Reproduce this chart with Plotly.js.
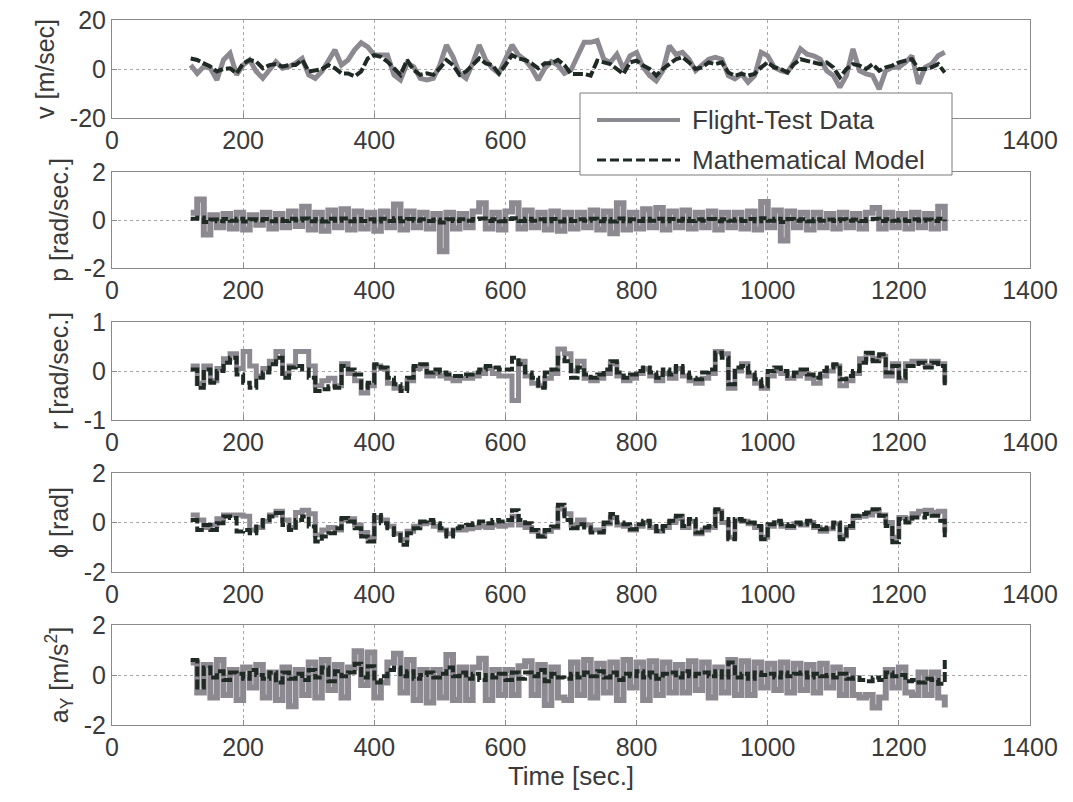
<!DOCTYPE html>
<html>
<head>
<meta charset="utf-8">
<script src="https://cdn.plot.ly/plotly-3.0.1.min.js"></script>
<style>html,body{margin:0;padding:0;background:#fff;}#chart{width:1073px;height:802px;}</style>
</head>
<body>
<div id="chart"></div>
<script>
// Time samples [sec.]
const TIME = [120,130,140,150,160,170,180,190,200,210,220,230,240,250,260,270,280,290,300,310,
  320,330,340,350,360,370,380,390,400,410,420,430,440,450,460,470,480,490,500,510,
  520,530,540,550,560,570,580,590,600,610,620,630,640,650,660,670,680,690,700,710,
  720,730,740,750,760,770,780,790,800,810,820,830,840,850,860,870,880,890,900,910,
  920,930,940,950,960,970,980,990,1000,1010,1020,1030,1040,1050,1060,1070,1080,1090,1100,1110,
  1120,1130,1140,1150,1160,1170,1180,1190,1200,1210,1220,1230,1240,1250,1260,1270];

// v [m/sec]
const V_FLIGHT = [1.6,-1.8,1.0,0.3,-4.5,3.7,6.4,-2.4,1.6,3.7,
  -1.0,-3.8,-0.4,3.0,0.3,1.0,2.3,4.3,-2.4,-3.8,
  -1.0,3.7,7.8,1.6,3.7,7.8,10.7,9.0,5.7,5.7,
  5.7,-2.4,-4.5,2.3,1.0,-3.8,-4.5,-3.8,1.6,9.8,
  5.0,-1.8,-3.8,2.3,9.8,3.7,0.3,-1.8,3.7,9.8,
  5.7,3.7,0.3,-4.5,0.3,3.0,1.6,-1.8,-0.4,5.4,
  10.9,10.9,11.6,4.0,2.7,6.0,0.0,5.4,6.8,0.7,
  -2.7,-4.8,-0.7,9.5,6.0,6.8,4.0,-0.7,1.4,4.0,
  4.8,4.0,-2.7,-4.0,-2.0,-5.4,-2.7,6.8,5.4,0.7,
  -0.7,-1.4,2.7,8.2,6.0,5.4,4.0,-0.7,-2.7,-7.5,
  -2.7,8.2,-0.7,-2.0,-2.7,-8.2,-0.7,0.7,0.7,2.7,
  5.4,-6.0,0.7,2.0,5.4,6.8];
const V_MODEL = [4.3,3.7,2.3,1.0,-1.0,0.0,0.3,-1.8,2.3,3.7,
  3.0,0.3,1.6,2.0,1.0,1.6,1.6,3.7,-1.0,-0.4,
  -0.1,1.6,0.3,-1.8,-1.8,-3.0,-1.0,4.3,5.7,5.0,
  3.0,0.3,-2.4,3.7,-0.4,-2.4,-1.8,-2.4,0.3,3.7,
  1.6,-2.4,-1.0,1.6,4.3,2.3,1.6,-1.8,1.6,5.7,
  4.3,3.7,2.3,0.3,2.3,2.3,3.7,1.6,-2.0,-2.0,
  -2.0,-2.7,3.4,2.7,2.0,0.0,-2.0,2.7,3.4,1.4,
  0.0,-2.7,0.0,2.0,4.0,4.8,2.7,0.0,0.7,2.7,
  2.0,2.7,-1.4,-2.7,-2.0,-2.7,-2.0,0.7,2.7,0.7,
  0.0,-1.4,2.0,4.0,3.4,2.7,2.0,2.7,0.7,-3.4,
  0.0,2.0,1.4,0.0,2.0,-0.7,0.7,1.4,2.7,3.4,
  4.0,0.0,0.0,0.7,2.0,-1.4];

// p [rad/sec.]
const P_FLIGHT = [0.3,0.85,-0.6,0.2,-0.3,0.25,-0.35,0.3,-0.4,0.2,
  -0.2,0.3,-0.35,0.25,-0.3,0.35,-0.25,0.55,-0.4,0.3,
  -0.45,0.4,-0.3,0.45,-0.4,0.35,-0.35,0.3,-0.45,0.35,
  -0.3,0.65,-0.4,0.35,-0.3,0.3,-0.35,0.25,-1.3,0.3,
  -0.35,0.25,-0.3,0.35,0.7,-0.35,0.3,-0.4,0.35,0.7,
  -0.35,0.4,-0.3,0.3,-0.4,0.35,-0.45,0.3,-0.35,0.3,
  -0.3,0.4,-0.4,0.35,-0.55,0.7,-0.4,0.3,-0.35,0.45,
  -0.3,0.5,-0.4,0.35,-0.3,0.4,-0.35,0.3,-0.3,0.35,
  -0.4,0.3,-0.3,0.3,-0.35,0.35,-0.4,0.75,-0.3,0.4,
  -0.85,0.35,-0.3,0.3,-0.4,0.3,-0.3,0.25,-0.35,0.3,
  -0.3,0.25,-0.35,0.3,0.5,-0.35,0.3,-0.3,0.25,-0.35,
  0.3,-0.3,0.25,-0.35,0.55,-0.45];
const P_MODEL = [0.05,0.1,-0.08,0.02,-0.05,0.04,-0.03,0.05,-0.06,0.03,
  -0.02,0.04,-0.05,0.03,-0.04,0.05,-0.02,0.06,-0.05,0.03,
  -0.06,0.05,-0.03,0.06,-0.05,0.04,-0.04,0.03,-0.06,0.05,
  -0.04,0.07,-0.05,0.04,-0.03,0.03,-0.04,0.02,-0.1,0.03,
  -0.04,0.03,-0.03,0.04,0.06,-0.04,0.03,-0.05,0.04,0.07,
  -0.04,0.05,-0.03,0.03,-0.05,0.04,-0.06,0.03,-0.04,0.03,
  -0.03,0.05,-0.05,0.04,-0.06,0.06,-0.05,0.03,-0.04,0.05,
  -0.03,0.05,-0.05,0.04,-0.03,0.05,-0.04,0.03,-0.03,0.04,
  -0.05,0.03,-0.03,0.03,-0.04,0.04,-0.05,0.07,-0.03,0.05,
  -0.08,0.04,-0.03,0.03,-0.05,0.03,-0.03,0.02,-0.04,0.03,
  -0.03,0.02,-0.04,0.03,0.05,-0.04,0.03,-0.03,0.02,-0.04,
  0.03,-0.03,0.02,-0.04,0.05,-0.05];

// r [rad/sec.]
const R_FLIGHT = [0.1,-0.25,0.1,-0.2,0.05,0.25,0.35,0.05,0.4,0.1,
  -0.1,0.05,0.2,0.4,-0.05,0.1,0.4,0.4,0.1,-0.3,
  -0.2,-0.15,-0.3,0.15,-0.05,-0.2,-0.45,-0.3,0.1,0.05,
  -0.25,-0.35,-0.35,-0.2,0.05,0.1,-0.1,-0.05,-0.1,-0.15,
  -0.2,-0.15,-0.15,-0.1,-0.05,0.05,-0.05,-0.1,-0.1,-0.6,
  0.2,-0.1,-0.25,-0.3,-0.15,-0.05,0.45,0.35,0.0,
  0.2,-0.15,-0.2,-0.15,-0.05,0.15,-0.1,-0.2,-0.15,-0.05,
  0.05,-0.1,-0.2,-0.05,-0.15,0.05,-0.1,-0.2,-0.25,-0.15,
  -0.05,0.4,0.35,-0.35,0.0,0.15,-0.1,-0.25,-0.35,-0.1,
  0.0,-0.05,-0.15,-0.1,-0.05,-0.15,-0.25,-0.1,0.0,0.1,
  -0.3,-0.2,-0.05,0.25,0.35,0.25,0.3,-0.1,0.15,-0.2,
  0.15,0.2,0.2,0.1,0.2,0.15,-0.25];
const R_MODEL = [0.03,-0.34,0.03,-0.24,0.0,0.17,0.27,-0.07,-0.24,-0.34,
  -0.14,-0.03,0.14,0.27,-0.14,0.07,0.1,0.03,-0.14,-0.41,
  -0.37,-0.31,-0.34,0.1,0.03,-0.07,-0.34,-0.24,0.14,0.07,
  -0.14,-0.27,-0.41,-0.14,0.1,0.14,-0.03,0.03,-0.03,-0.07,
  -0.1,-0.1,-0.07,-0.03,0.03,0.1,0.07,0.03,0.03,0.27,
  0.14,-0.03,-0.14,-0.34,-0.03,0.03,0.27,0.2,-0.14,
  0.07,-0.07,-0.14,-0.07,0.03,0.2,-0.03,-0.14,-0.07,0.0,
  0.07,-0.03,-0.14,0.03,-0.07,0.1,-0.03,-0.14,-0.17,-0.03,
  0.03,0.37,0.27,-0.27,0.07,0.1,-0.03,-0.17,-0.31,0.0,
  0.07,0.0,-0.1,-0.03,0.03,-0.07,-0.14,0.0,0.07,0.14,
  -0.17,-0.1,0.0,0.17,0.37,0.2,0.34,-0.03,0.1,-0.14,
  0.1,0.1,0.17,0.07,0.17,0.1,-0.34];

// phi [rad]
const PHI_FLIGHT = [0.3,0.1,-0.2,-0.1,0.15,0.3,0.3,0.3,0.25,-0.3,
  -0.2,0.05,0.3,0.45,0.1,-0.2,0.4,0.5,0.35,-0.5,
  -0.3,-0.2,-0.3,0.1,0.15,-0.1,-0.4,-0.6,0.2,0.1,
  -0.15,-0.45,-0.7,-0.35,-0.15,-0.05,0.0,-0.15,-0.3,-0.45,
  -0.3,-0.3,-0.25,-0.2,-0.15,-0.2,-0.1,-0.15,-0.1,0.25,
  -0.1,-0.2,-0.35,-0.55,-0.35,-0.2,0.55,0.35,-0.1,
  0.1,-0.1,-0.3,-0.3,-0.05,0.2,-0.1,-0.15,-0.3,-0.15,
  0.0,-0.2,-0.35,-0.2,0.0,0.15,-0.2,0.05,-0.45,-0.3,
  -0.2,0.45,0.0,-0.6,0.1,0.05,-0.05,-0.2,-0.6,-0.15,
  0.0,-0.15,-0.2,-0.05,-0.1,0.0,-0.2,-0.35,-0.25,-0.05,
  -0.55,-0.2,0.2,0.25,0.3,0.45,0.3,0.0,-0.6,0.2,
  0.15,0.35,0.45,0.5,0.4,0.45,-0.4];
const PHI_MODEL = [0.1,-0.3,-0.1,-0.3,-0.03,0.24,0.18,-0.36,-0.3,-0.43,
  -0.16,0.1,0.24,0.38,-0.1,-0.3,0.1,0.24,-0.16,-0.77,
  -0.57,-0.43,-0.23,0.18,0.04,-0.23,-0.57,-0.77,0.3,-0.03,
  -0.23,-0.5,-0.9,-0.43,-0.23,0.04,0.1,-0.03,-0.23,-0.57,
  -0.23,-0.16,-0.1,-0.03,0.04,-0.03,0.1,0.04,0.1,0.5,
  0.1,-0.03,-0.3,-0.57,-0.3,-0.16,0.72,0.1,-0.23,
  -0.07,-0.2,-0.4,-0.4,0.0,0.34,0.0,-0.07,-0.27,-0.07,
  0.07,-0.14,-0.34,-0.14,0.07,0.27,-0.14,0.14,-0.4,-0.2,
  -0.14,0.54,0.14,-0.68,0.14,0.07,0.0,-0.14,-0.68,-0.07,
  0.07,-0.07,-0.14,0.0,-0.07,0.07,-0.14,-0.27,-0.2,0.0,
  -0.68,-0.14,0.27,0.34,0.4,0.54,0.27,-0.14,-0.8,0.14,
  0.0,0.2,0.2,0.34,0.27,0.07,-0.6];

// a_Y [m/s^2]
const AY_FLIGHT = [0.5,-0.7,0.4,-0.9,0.6,-0.8,0.2,-1.0,0.3,-0.5,
  0.4,-0.9,0.1,-1.0,0.3,-1.25,0.2,-0.8,0.5,-0.9,
  0.6,-0.6,0.4,-0.9,0.3,0.95,-0.4,0.9,-0.9,-0.3,
  0.5,0.85,-0.7,0.6,-1.0,0.2,-1.1,0.2,-0.9,0.8,
  -1.0,0.3,-1.0,0.3,0.65,-1.0,0.2,-0.8,0.2,-0.8,
  0.35,0.55,-0.8,0.4,-1.2,0.3,-0.9,-1.0,0.5,-0.8,
  0.6,-0.9,0.45,-0.7,0.5,-1.0,0.6,-0.5,0.5,-1.0,
  0.55,-0.8,0.5,-0.7,0.4,-0.7,0.55,-0.6,0.5,-0.9,
  0.3,-0.7,0.6,-0.8,0.55,-0.8,0.5,-0.5,0.45,-0.6,
  0.5,-0.7,0.45,-0.6,0.4,-0.7,0.45,-0.5,0.3,-0.8,
  0.2,-0.8,-0.9,-0.8,-1.3,-0.9,0.2,-0.5,0.3,-0.7,
  -0.8,0.1,-0.8,0.1,-0.9,-1.3];
const AY_MODEL = [0.6,-0.5,0.3,-0.1,0.15,-0.2,0.1,0.05,-0.15,0.2,
  0.0,-0.15,0.1,-0.3,0.1,-0.15,0.05,-0.2,0.2,-0.1,
  0.3,-0.25,0.15,-0.05,0.1,0.45,-0.1,0.35,-0.3,-0.05,
  0.2,0.3,-0.05,0.15,-0.15,0.0,0.1,-0.1,0.05,0.3,
  -0.05,0.1,-0.15,0.05,-0.2,0.0,-0.1,0.05,-0.2,0.1,
  -0.15,0.1,-0.05,0.2,-0.25,0.05,-0.1,-0.15,0.05,-0.1,
  0.1,-0.05,0.15,-0.1,0.1,-0.2,0.05,-0.05,0.15,-0.1,
  0.1,-0.15,0.05,0.1,-0.1,0.15,-0.05,0.05,0.1,-0.05,
  0.15,-0.1,0.5,-0.1,0.05,-0.15,0.1,0.0,0.05,-0.1,
  0.1,-0.05,0.05,0.1,-0.1,0.05,-0.05,0.0,-0.1,0.05,
  -0.15,-0.1,-0.2,-0.25,-0.1,-0.2,0.1,-0.05,0.0,-0.25,
  -0.2,-0.3,-0.15,-0.2,-0.35,0.6];

const X_TICKS = [0,200,400,600,800,1000,1200,1400];
// top panel: the labels 800-1200 lie under the legend box in the reference
const X_TICKTEXT_TOP = ['0','200','400','600','','','','1400'];
const PANELS = [
  {flight: V_FLIGHT, model: V_MODEL, range: [-20,20], ticks: [-20,0,20], label: 'v [m/sec]', shape: 'linear', gw: 5},
  {flight: P_FLIGHT, model: P_MODEL, range: [-2,2], ticks: [-2,0,2], label: 'p [rad/sec.]', shape: 'hv', gw: 6},
  {flight: R_FLIGHT, model: R_MODEL, range: [-1,1], ticks: [-1,0,1], label: 'r [rad/sec.]', shape: 'hv', gw: 5},
  {flight: PHI_FLIGHT, model: PHI_MODEL, range: [-2,2], ticks: [-2,0,2], label: '\u03d5 [rad]', shape: 'hv', gw: 5},
  {flight: AY_FLIGHT, model: AY_MODEL, range: [-2,2], ticks: [-2,0,2], label: 'a<sub>Y</sub> [m/s<sup>2</sup>]', shape: 'hv', gw: 6}
];
const LEGEND_NAMES = ['Flight-Test Data', 'Mathematical Model'];

// ---- layout geometry (pixels of the 1073x802 figure) ----
const W = 1073, H = 802;
const X0 = 112, X1 = 1030;
const PANEL_PX = [[20,118],[172,268],[322,420],[473,572],[625,725]];
const FONT = 'Liberation Sans, Arial, Helvetica, sans-serif';
const TXT = '#3a3a3a';
const GRAY = '#8d8991';
const DARK = '#1f2a25';

const traces = [];
const layout = {
  width: W, height: H,
  margin: {l: 0, r: 0, t: 0, b: 0},
  paper_bgcolor: '#ffffff', plot_bgcolor: '#ffffff',
  showlegend: false,
  font: {family: FONT, color: TXT, size: 25},
  shapes: [], annotations: []
};

PANELS.forEach((p, i) => {
  const k = i === 0 ? '' : String(i + 1);
  const xa = 'x' + k, ya = 'y' + k;
  traces.push({x: TIME, y: p.flight, xaxis: xa, yaxis: ya, type: 'scatter', mode: 'lines',
    name: LEGEND_NAMES[0], line: {color: GRAY, width: p.gw, shape: p.shape}});
  traces.push({x: TIME, y: p.model, xaxis: xa, yaxis: ya, type: 'scatter', mode: 'lines',
    name: LEGEND_NAMES[1], line: {color: DARK, width: 4, dash: '10px,3px', shape: p.shape}});
  const common = {
    showline: true, mirror: true, linecolor: '#8a8a8a', linewidth: 1,
    showgrid: true, gridcolor: '#a8a8a8', griddash: 'dot', gridwidth: 1,
    zeroline: false, ticks: 'inside', ticklen: 5, tickcolor: '#8a8a8a',
    tickfont: {family: FONT, size: 25, color: TXT}, fixedrange: true
  };
  layout['xaxis' + k] = Object.assign({}, common, {
    domain: [X0 / W, X1 / W], anchor: ya, range: [0, 1400],
    tickmode: 'array', tickvals: X_TICKS,
    ticktext: i === 0 ? X_TICKTEXT_TOP : X_TICKS.map(String)
  });
  if (i === PANELS.length - 1) {
    layout['xaxis' + k].title = {text: 'Time [sec.]', font: {family: FONT, size: 26, color: TXT}, standoff: 6};
  }
  const [top, bot] = PANEL_PX[i];
  layout['yaxis' + k] = Object.assign({}, common, {
    domain: [1 - bot / H, 1 - top / H], anchor: xa, range: p.range,
    tickmode: 'array', tickvals: p.ticks, ticktext: p.ticks.map(String),
    title: {text: p.label, font: {family: FONT, size: 25, color: TXT}, standoff: 8}
  });
});

// legend box (drawn like the MATLAB legend)
const px = v => v / W, py = v => 1 - v / H;
layout.shapes.push({type: 'rect', xref: 'paper', yref: 'paper', layer: 'above',
  x0: px(580), x1: px(952), y0: py(175), y1: py(93),
  fillcolor: '#ffffff', line: {color: '#7a7a7a', width: 1}});
layout.shapes.push({type: 'line', xref: 'paper', yref: 'paper', layer: 'above',
  x0: px(597), x1: px(680), y0: py(120), y1: py(120), line: {color: GRAY, width: 4}});
layout.shapes.push({type: 'line', xref: 'paper', yref: 'paper', layer: 'above',
  x0: px(597), x1: px(680), y0: py(160), y1: py(160), line: {color: DARK, width: 3, dash: '9px,4px'}});
layout.annotations.push({xref: 'paper', yref: 'paper', x: px(690), y: py(120), xanchor: 'left', yanchor: 'middle',
  text: LEGEND_NAMES[0], showarrow: false, font: {family: FONT, size: 26, color: TXT}});
layout.annotations.push({xref: 'paper', yref: 'paper', x: px(690), y: py(160), xanchor: 'left', yanchor: 'middle',
  text: LEGEND_NAMES[1], showarrow: false, font: {family: FONT, size: 26, color: TXT}});

Plotly.newPlot('chart', traces, layout, {staticPlot: true, displayModeBar: false});
</script>
</body>
</html>
